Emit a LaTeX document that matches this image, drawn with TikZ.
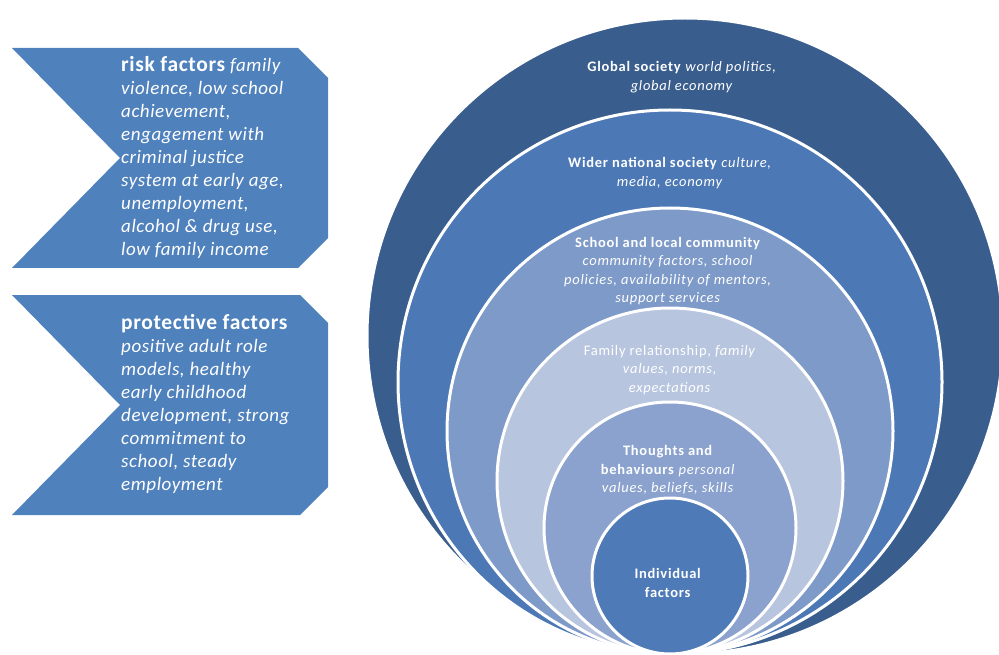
\documentclass[tikz,border=0pt]{standalone}
\usepackage{fontspec}
\setmainfont{Carlito}
\newfontfamily\ringfont[LetterSpace=5]{Carlito}
\newfontfamily\chevfont[LetterSpace=3]{Carlito}
\usepackage{tikz}

\definecolor{ringA}{HTML}{395D8D}
\definecolor{ringB}{HTML}{4C78B5}
\definecolor{ringC}{HTML}{7E9AC8}
\definecolor{ringD}{HTML}{B8C5DF}
\definecolor{ringE}{HTML}{8AA2CD}
\definecolor{ringF}{HTML}{4E7AB7}
\definecolor{chevblue}{HTML}{4F81BD}

\newcommand{\chevhead}[1]{{\fontsize{21.5}{23}\selectfont\bfseries #1}}

\tikzset{
  ring/.style={fill=#1, draw=white, line width=3pt},
  ringtext/.style={text=white, align=center, inner sep=0pt,
    font=\ringfont\fontsize{14.5}{18.5}\selectfont},
  chevron/.style={fill=chevblue},
  chevtext/.style={text=white, align=left, inner sep=0pt, anchor=north west,
    font=\chevfont\fontsize{19}{23}\selectfont}
}

\begin{document}
\begin{tikzpicture}[x=1pt, y=-1pt]
    \useasboundingbox (0,0) rectangle (999,655);
    \clip (0,0) rectangle (999,655);

    % common touching point at the bottom
    \coordinate (T) at (670,654);

    % outer ring, a bit to the right
    \draw[ring=ringA] (685,336) circle [radius=318pt];

    % inner rings, all touching at T
    \foreach \r/\c in {272/ringB, 223/ringC, 173/ringD, 126/ringE, 78/ringF}
        \draw[ring=\c] (670,{654-\r}) circle [radius=\r pt];

    % ring labels
    \node[ringtext] (global) at (682,77)
        {\textbf{Global society} \textit{world politics,}\\ \textit{global economy}};
    \node[ringtext] (national) at (670,173)
        {\textbf{Wider national society} \textit{culture,}\\ \textit{media, economy}};
    \node[ringtext] (school) at (668,271)
        {\textbf{School and local community}\\ \textit{community factors, school}\\
         \textit{policies, availability of mentors,}\\ \textit{support services}};
    \node[ringtext] (family) at (670,370)
        {Family relationship, \textit{family}\\ \textit{values, norms,}\\ \textit{expectations}};
    \node[ringtext] (thoughts) at (668,470)
        {\textbf{Thoughts and}\\ \textbf{behaviours} \textit{personal}\\ \textit{values, beliefs, skills}};
    \node[ringtext] (individual) at (668,583)
        {\textbf{Individual}\\ \textbf{factors}};

    % left chevrons
    \fill[chevron] (12,48) -- (298,48) -- (328,78) -- (328,238) -- (298,268)
        -- (12,268) -- (120,158) -- cycle;
    \fill[chevron] (12,295) -- (300,295) -- (328,323) -- (328,487) -- (300,515)
        -- (12,515) -- (120,405) -- cycle;

    \node[chevtext] (risk) at (121,56)
        {\chevhead{risk factors} \textit{family}\\ \textit{violence, low school}\\
         \textit{achievement,}\\ \textit{engagement with}\\ \textit{criminal justice}\\
         \textit{system at early age,}\\ \textit{unemployment,}\\
         \textit{alcohol \& drug use,}\\ \textit{low family income}};
    \node[chevtext] (protect) at (121,314)
        {\chevhead{protective factors}\\ \textit{positive adult role}\\
         \textit{models, healthy}\\ \textit{early childhood}\\
         \textit{development, strong}\\ \textit{commitment to}\\
         \textit{school, steady}\\ \textit{employment}};
\end{tikzpicture}
\end{document}
